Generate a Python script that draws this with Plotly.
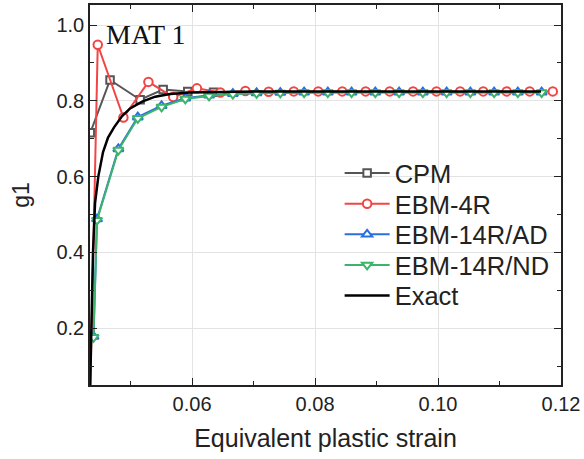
import plotly.graph_objects as go

# ---------------- data ----------------
cpm_x = [0.04345, 0.04666, 0.05155, 0.05530, 0.05930, 0.06350]
cpm_y = [0.716, 0.855, 0.803, 0.830, 0.825, 0.823]

ebm4r_x = [0.04340, 0.04466, 0.04883, 0.05290, 0.05693, 0.06079, 0.06459, 0.06867,
           0.07246, 0.07654, 0.08052, 0.08443, 0.08823, 0.09214, 0.09594, 0.09975,
           0.10360, 0.10735, 0.11116, 0.11491, 0.11866]
ebm4r_y = [0.000, 0.948, 0.756, 0.850, 0.810, 0.833, 0.822, 0.826, 0.824, 0.825,
           0.825, 0.825, 0.825, 0.825, 0.825, 0.825, 0.825, 0.825, 0.825, 0.825, 0.825]

ebm14_x = [0.04397, 0.04454, 0.04801, 0.05117, 0.05504, 0.05890, 0.06276, 0.06663,
           0.07049, 0.07435, 0.07822, 0.08208, 0.08594, 0.08980, 0.09367, 0.09753,
           0.10140, 0.10526, 0.10912, 0.11298, 0.11685]
ebm14ad_y = [0.178, 0.488, 0.673, 0.757, 0.787, 0.807, 0.815, 0.819, 0.821, 0.822,
             0.823, 0.823, 0.823, 0.823, 0.823, 0.823, 0.823, 0.823, 0.823, 0.823, 0.823]
ebm14nd_y = [0.176, 0.485, 0.670, 0.754, 0.784, 0.805, 0.813, 0.818, 0.820, 0.821,
             0.822, 0.822, 0.822, 0.822, 0.822, 0.822, 0.822, 0.822, 0.822, 0.822, 0.822]

exact_x = [0.04340, 0.04364, 0.04389, 0.04422, 0.04475, 0.04552, 0.04633, 0.04731,
           0.04862, 0.04992, 0.05188, 0.05400, 0.05644, 0.05970, 0.06460, 0.07110, 0.11675]
exact_y = [0.030, 0.200, 0.400, 0.530, 0.600, 0.665, 0.703, 0.730,
           0.760, 0.780, 0.798, 0.811, 0.818, 0.822, 0.824, 0.825, 0.825]

x_ticks = [0.06, 0.08, 0.10, 0.12]
x_ticklabels = ["0.06", "0.08", "0.10", "0.12"]
y_ticks = [0.2, 0.4, 0.6, 0.8, 1.0]
y_ticklabels = ["0.2", "0.4", "0.6", "0.8", "1.0"]

FONT = "Arial, Liberation Sans, sans-serif"

fig = go.Figure()

def add(x, y, name, color, symbol, size, legend):
    fig.add_trace(go.Scatter(
        x=x, y=y, name=name, mode="lines+markers", legend=legend,
        line=dict(color=color, width=2),
        marker=dict(symbol=symbol, size=size, color="white",
                    line=dict(color=color, width=2)),
    ))

add(cpm_x, cpm_y, "CPM", "#555555", "square", 7.5, "legend")
add(ebm4r_x, ebm4r_y, "EBM-4R", "#f24444", "circle", 8.5, "legend2")
add(ebm14_x, ebm14ad_y, "EBM-14R/AD", "#2a6fdf", "triangle-up", 9, "legend3")
add(ebm14_x, ebm14nd_y, "EBM-14R/ND", "#3db36b", "triangle-down", 9, "legend4")
fig.add_trace(go.Scatter(x=exact_x, y=exact_y, name="Exact", mode="lines",
                         legend="legend5",
                         line=dict(color="black", width=2.5)))

axis_common = dict(
    showline=True, linecolor="#222222", linewidth=1.5, mirror="ticks",
    ticks="inside", ticklen=7, tickwidth=1.2, tickcolor="#222222",
    showgrid=True, gridcolor="#e3e3e3", gridwidth=1, zeroline=False,
    tickfont=dict(family=FONT, size=20, color="#222222"),
)

fig.update_xaxes(
    range=[0.0434, 0.12], tickvals=x_ticks, ticktext=x_ticklabels,
    minor=dict(dtick=0.01, tick0=0.0, ticks="inside", ticklen=4,
               tickcolor="#222222", showgrid=False),
    title=dict(text="Equivalent plastic strain",
               font=dict(family=FONT, size=25, color="#222222"), standoff=16),
    **axis_common,
)
fig.update_yaxes(
    range=[0.05, 1.053], tickvals=y_ticks, ticktext=y_ticklabels,
    minor=dict(dtick=0.1, tick0=0.1, ticks="inside", ticklen=4,
               tickcolor="#222222", showgrid=False),
    title=dict(text="g1", font=dict(family=FONT, size=23, color="#222222"),
               standoff=20),
    **axis_common,
)

fig.add_annotation(x=0.0, y=1.0, xref="paper", yref="paper",
                   xanchor="left", yanchor="top", xshift=14, yshift=-12,
                   text="MAT 1", showarrow=False,
                   font=dict(family="Liberation Serif, Times New Roman, serif",
                             size=28, color="#111111"))

legend_font = dict(family=FONT, size=25.5, color="#222222")
legends = {}
for i, key in enumerate(["legend", "legend2", "legend3", "legend4", "legend5"]):
    ypx = 173.5 + 30.6 * i
    legends[key] = dict(x=0.53, y=(385 - ypx) / 380, xanchor="left", yanchor="middle",
                        bgcolor="rgba(0,0,0,0)", borderwidth=0,
                        font=legend_font, itemwidth=45)

fig.update_layout(
    width=584, height=459,
    margin=dict(l=90, r=23, t=5, b=74, autoexpand=False),
    paper_bgcolor="white", plot_bgcolor="white",
    showlegend=True,
    **legends,
)

fig.write_html("out.html")
